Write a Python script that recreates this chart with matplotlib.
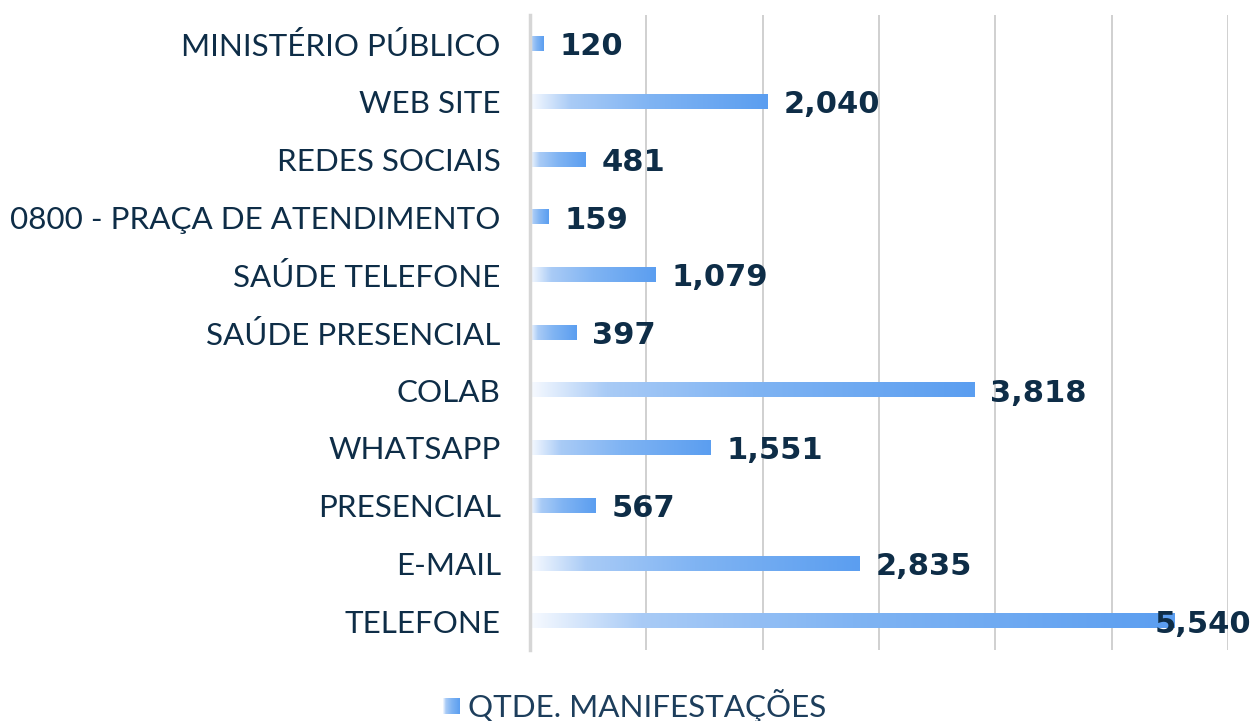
import numpy as np
import matplotlib
matplotlib.use("Agg")
import matplotlib.pyplot as plt
from matplotlib.colors import LinearSegmentedColormap

categories = ["TELEFONE", "E-MAIL", "PRESENCIAL", "WHATSAPP", "COLAB",
              "SAÚDE PRESENCIAL", "SAÚDE TELEFONE", "0800 - PRAÇA DE ATENDIMENTO",
              "REDES SOCIAIS", "WEB SITE", "MINISTÉRIO PÚBLICO"]
values = [5540, 2835, 567, 1551, 3818, 397, 1079, 159, 481, 2040, 120]
series_name = "QTDE. MANIFESTAÇÕES"

navy = "#0e2d47"
cmap = LinearSegmentedColormap.from_list(
    "g", [(0, "#f7faff"), (0.17, "#a9cbf6"), (0.5, "#80b4f3"), (1.0, "#5b9ef0")])

fig = plt.figure(figsize=(12.54, 7.21), dpi=100)
ax = fig.add_axes([530/1254, 1-650/721, (1228-530)/1254, (650-15)/721])

y = np.arange(len(categories))
bars = ax.barh(y, values, height=0.25, color="none", edgecolor="none")
grad = np.linspace(0, 1, 256).reshape(1, -1)
for b in bars:
    x0, y0, w, h = b.get_x(), b.get_y(), b.get_width(), b.get_height()
    ax.imshow(grad, cmap=cmap, extent=[x0, x0 + w, y0, y0 + h],
              aspect="auto", zorder=3, interpolation="bilinear")

ax.set_xlim(0, 6000)
ax.set_ylim(-0.5, len(categories) - 0.5)
ax.set_xticks(np.arange(0, 6001, 1000))
ax.set_xticklabels([])
ax.tick_params(axis="x", length=0)
ax.tick_params(axis="y", length=0, pad=21)
ax.set_yticks(y)
ax.set_yticklabels(categories, fontsize=22.6, color=navy, family="Lato",
                   va="center_baseline")
ax.grid(axis="x", color="#d0d0d0", linewidth=1.4, zorder=0)
ax.set_axisbelow(True)
for s in ["top", "right", "bottom"]:
    ax.spines[s].set_visible(False)
ax.spines["left"].set_color("#d6d6d6")
ax.spines["left"].set_linewidth(2.5)
ax.spines["left"].set_zorder(4)

vmax = max(values)
lab_kw = dict(va="center_baseline", fontsize=22, fontweight="bold", color=navy,
              family="DejaVu Sans", zorder=5)
for yi, v in zip(y, values):
    txt = f"{v:,}"
    if v == vmax:
        ax.annotate(txt, xy=(0.998, yi), xycoords=("figure fraction", "data"),
                    ha="right", annotation_clip=False, **lab_kw)
    else:
        ax.annotate(txt, xy=(v, yi), xytext=(16, 0), textcoords="offset pixels",
                    ha="left", **lab_kw)

# legend
lx, ly = 443/1254, 1-706/721
sq = fig.add_axes([lx, ly - 8/721, 17/1254, 16/721])
sq.imshow(grad, cmap=cmap, aspect="auto", extent=[0, 1, 0, 1])
sq.axis("off")
fig.text(468/1254, ly, series_name, ha="left", va="center", fontsize=22.6,
         color="#1d3e5c", family="Lato")

fig.savefig("out.png", dpi=100)
